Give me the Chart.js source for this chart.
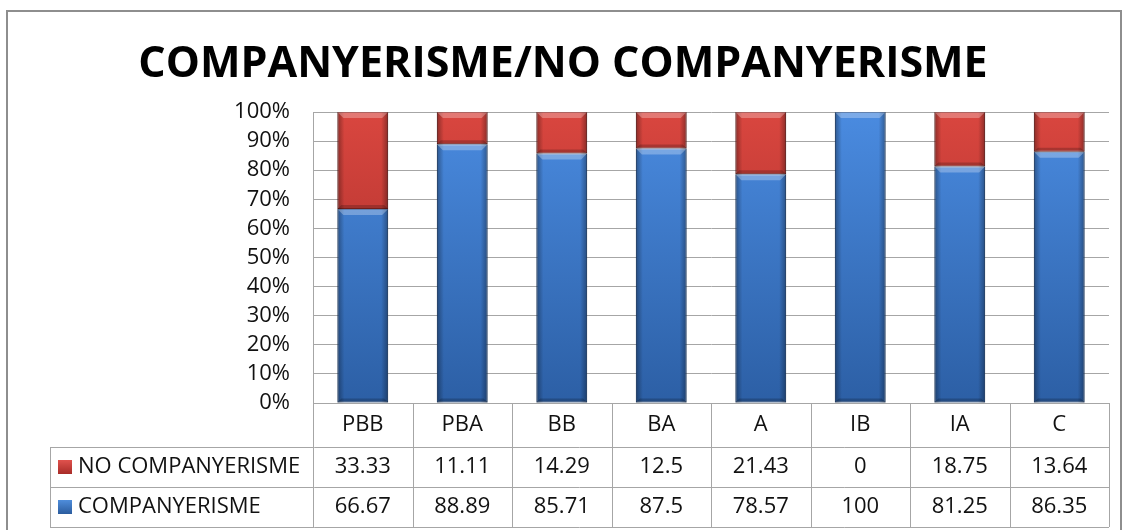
<!DOCTYPE html>
<html>
<head>
<meta charset="utf-8">
<script src="https://cdn.jsdelivr.net/npm/chart.js@4/dist/chart.umd.min.js"></script>
<style>
  html, body { margin: 0; padding: 0; background: #fff; }
  #wrap { width: 1126px; height: 530px; }
</style>
</head>
<body>
<div id="wrap"><canvas id="chart" width="1126" height="530"></canvas></div>
<script>
// data
const categories = ['PBB', 'PBA', 'BB', 'BA', 'A', 'IB', 'IA', 'C'];
const noCompanyerisme = [33.33, 11.11, 14.29, 12.5, 21.43, 0, 18.75, 13.64];
const companyerisme = [66.67, 88.89, 85.71, 87.5, 78.57, 100, 81.25, 86.35];
const seriesNames = ['COMPANYERISME', 'NO COMPANYERISME'];

const FONT = "'Open Sans', sans-serif";
Chart.defaults.font.family = FONT;
Chart.defaults.color = '#000';

const barFill = (top, bottom) => (ctx) => {
    const area = ctx.chart.chartArea;
    if (!area) return bottom;
    const g = ctx.chart.ctx.createLinearGradient(0, area.top, 0, area.bottom);
    g.addColorStop(0, top);
    g.addColorStop(1, bottom);
    return g;
};

// little bevel like the office 2007 bars
const bevel = {
    id: 'bevel',
    afterDatasetsDraw(chart) {
        const ctx = chart.ctx;
        chart.data.datasets.forEach((ds, i) => {
            chart.getDatasetMeta(i).data.forEach(bar => {
                const l = bar.x - bar.width / 2, r = bar.x + bar.width / 2;
                const t = Math.min(bar.y, bar.base), b = Math.max(bar.y, bar.base);
                const h = b - t;
                if (h < 2) return;
                const e = Math.min(6, h / 2);
                ctx.save();
                let g = ctx.createLinearGradient(l, 0, l + 7, 0);
                g.addColorStop(0, 'rgba(0,0,0,0.35)');
                g.addColorStop(1, 'rgba(0,0,0,0)');
                ctx.fillStyle = g;
                ctx.fillRect(l, t, 7, h);
                g = ctx.createLinearGradient(r, 0, r - 7, 0);
                g.addColorStop(0, 'rgba(0,0,0,0.35)');
                g.addColorStop(1, 'rgba(0,0,0,0)');
                ctx.fillStyle = g;
                ctx.fillRect(r - 7, t, 7, h);
                // top light edge
                ctx.fillStyle = 'rgba(255,255,255,0.28)';
                ctx.beginPath();
                ctx.moveTo(l, t); ctx.lineTo(r, t); ctx.lineTo(r - e, t + e); ctx.lineTo(l + e, t + e);
                ctx.closePath(); ctx.fill();
                // bottom dark edge
                ctx.fillStyle = 'rgba(0,0,0,0.2)';
                ctx.beginPath();
                ctx.moveTo(l, b); ctx.lineTo(r, b); ctx.lineTo(r - 4, b - 4); ctx.lineTo(l + 4, b - 4);
                ctx.closePath(); ctx.fill();
                ctx.restore();
            });
        });
    }
};

// data table under the plot + outer frame
const dataTable = {
    id: 'dataTable',
    afterDraw(chart) {
        const ctx = chart.ctx;
        const area = chart.chartArea;
        const colW = (area.right - area.left) / categories.length;
        const headTop = area.bottom, headBot = area.bottom + 44;
        const rowH = 40;
        const legendLeft = 50;
        const rows = [
            { name: seriesNames[1], values: noCompanyerisme, color: ['#e0524d', '#a82c28'] },
            { name: seriesNames[0], values: companyerisme, color: ['#4f8ddb', '#2b5c9e'] }
        ];
        const tableBot = headBot + rowH * rows.length;

        ctx.save();
        ctx.strokeStyle = '#a6a6a6';
        ctx.lineWidth = 1;
        ctx.beginPath();
        // horizontal lines
        ctx.moveTo(area.left, headTop + 0.5); ctx.lineTo(area.right, headTop + 0.5);
        for (let r = 0; r <= rows.length; r++) {
            const y = Math.round(headBot + r * rowH) + 0.5;
            ctx.moveTo(legendLeft, y); ctx.lineTo(area.right, y);
        }
        // vertical lines
        ctx.moveTo(legendLeft + 0.5, headBot); ctx.lineTo(legendLeft + 0.5, tableBot);
        for (let c = 0; c <= categories.length; c++) {
            const x = Math.round(area.left + c * colW) + 0.5;
            ctx.moveTo(x, headTop); ctx.lineTo(x, tableBot);
        }
        ctx.stroke();

        ctx.font = '22px ' + FONT;
        ctx.fillStyle = '#111';
        ctx.textAlign = 'center';
        ctx.textBaseline = 'middle';
        categories.forEach((cat, i) => {
            ctx.fillText(cat, chart.scales.x.getPixelForValue(i), (headTop + headBot) / 2);
        });
        rows.forEach((row, r) => {
            const cy = headBot + r * rowH + rowH / 2;
            row.values.forEach((v, i) => {
                ctx.fillText(String(v), chart.scales.x.getPixelForValue(i), cy);
            });
            // legend key
            const g = ctx.createLinearGradient(0, cy - 7, 0, cy + 7);
            g.addColorStop(0, row.color[0]);
            g.addColorStop(1, row.color[1]);
            ctx.fillStyle = g;
            ctx.fillRect(58, cy - 7, 14, 14);
            ctx.fillStyle = '#111';
            ctx.textAlign = 'left';
            ctx.fillText(row.name, 78, cy);
            ctx.textAlign = 'center';
        });

        // chart frame
        ctx.strokeStyle = '#8e8e8e';
        ctx.lineWidth = 2;
        ctx.strokeRect(7, 11, 1114, 540);
        ctx.restore();
    }
};

const config = {
    type: 'bar',
    data: {
        labels: categories,
        datasets: [
            {
                label: seriesNames[0],
                data: companyerisme,
                backgroundColor: barFill('#4a8be0', '#2c5fa5'),
                borderColor: '#24518f',
                borderWidth: 1,
                borderSkipped: false,
                categoryPercentage: 1,
                barPercentage: 0.51
            },
            {
                label: seriesNames[1],
                data: noCompanyerisme,
                backgroundColor: barFill('#d9463f', '#9e2a26'),
                borderColor: '#8e2723',
                borderWidth: 1,
                borderSkipped: false,
                categoryPercentage: 1,
                barPercentage: 0.51
            }
        ]
    },
    options: {
        responsive: false,
        animation: false,
        devicePixelRatio: 1,
        layout: { padding: { left: 17, right: 17, top: 0, bottom: 127 } },
        plugins: {
            legend: { display: false },
            tooltip: { enabled: false },
            title: {
                display: true,
                text: 'COMPANYERISME/NO COMPANYERISME',
                color: '#000',
                font: { size: 43, weight: 'bold' },
                padding: { top: 39, bottom: 21.4 }
            }
        },
        scales: {
            x: {
                stacked: true,
                display: false
            },
            y: {
                stacked: true,
                min: 0,
                max: 100,
                afterFit(scale) { scale.width = 296; },
                border: { display: true, color: '#a6a6a6' },
                grid: { color: '#a6a6a6', drawTicks: false },
                ticks: {
                    stepSize: 10,
                    autoSkip: false,
                    padding: 23,
                    font: { size: 22 },
                    color: '#111',
                    callback: v => v + '%'
                }
            }
        }
    },
    plugins: [bevel, dataTable]
};

new Chart(document.getElementById('chart'), config);
</script>
</body>
</html>
